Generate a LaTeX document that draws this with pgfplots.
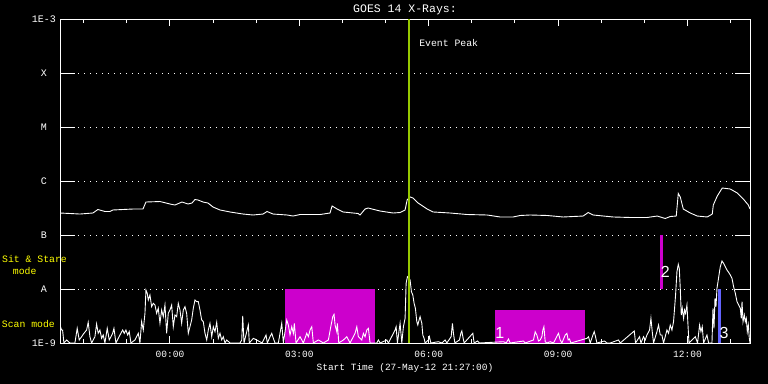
\documentclass[border=0pt]{standalone}
\usepackage{fontspec}
\setmainfont{Liberation Mono}
\newfontfamily\digfont{Liberation Sans}
\usepackage{pgfplots}
\pgfplotsset{compat=1.18}
\definecolor{mag}{RGB}{204,0,204}
\definecolor{peak}{RGB}{150,200,0}
\definecolor{blu}{RGB}{100,100,255}
\definecolor{yel}{RGB}{255,255,0}
\newcommand{\fs}[1]{\fontsize{#1}{#1}\selectfont}
\pgfplotstableread{
x y
-2.552 -6.589
-2.320 -6.598
-2.088 -6.608
-1.787 -6.589
-1.671 -6.524
-1.508 -6.561
-1.392 -6.561
-1.323 -6.533
-1.090 -6.524
-0.858 -6.515
-0.626 -6.515
-0.557 -6.385
-0.232 -6.376
0.000 -6.422
0.116 -6.441
0.278 -6.385
0.418 -6.422
0.510 -6.404
0.580 -6.339
0.650 -6.348
0.766 -6.385
0.882 -6.404
0.998 -6.478
1.160 -6.533
1.392 -6.570
1.694 -6.608
1.926 -6.626
2.158 -6.608
2.251 -6.561
2.390 -6.608
2.715 -6.626
2.854 -6.645
3.016 -6.617
3.480 -6.617
3.712 -6.589
3.759 -6.459
3.875 -6.515
4.014 -6.570
4.362 -6.598
4.408 -6.626
4.524 -6.515
4.594 -6.496
4.872 -6.552
5.174 -6.589
5.336 -6.580
5.452 -6.533
5.499 -6.348
5.568 -6.292
5.638 -6.311
5.754 -6.404
5.963 -6.515
6.102 -6.570
6.497 -6.589
6.891 -6.617
7.355 -6.626
7.657 -6.663
7.958 -6.663
8.121 -6.635
8.353 -6.626
8.747 -6.635
9.118 -6.663
9.582 -6.645
9.698 -6.580
9.814 -6.626
10.278 -6.663
10.673 -6.672
11.067 -6.672
11.299 -6.645
11.485 -6.691
11.601 -6.654
11.740 -6.645
11.787 -6.227
11.833 -6.292
11.903 -6.515
12.065 -6.589
12.227 -6.645
12.459 -6.663
12.575 -6.608
12.599 -6.441
12.691 -6.274
12.807 -6.125
12.993 -6.144
13.155 -6.218
13.295 -6.329
13.411 -6.441
13.450 -6.515
}\longchan
\pgfplotstableread{
x y
-2.552 -8.666
-2.513 -8.759
-2.490 -8.759
-2.459 -9
-2.397 -8.944
-2.320 -9
-2.204 -9
-2.151 -8.728
-2.104 -8.944
-2.049 -8.883
-1.995 -8.820
-1.933 -8.759
-1.896 -8.616
-1.856 -8.883
-1.817 -9
-1.740 -8.883
-1.701 -8.648
-1.664 -8.820
-1.624 -8.759
-1.585 -8.913
-1.548 -8.852
-1.508 -9
-1.455 -8.728
-1.408 -8.944
-1.329 -8.820
-1.299 -8.728
-1.253 -9
-1.200 -8.913
-1.097 -8.759
-1.060 -8.820
-1.021 -8.759
-0.981 -8.852
-0.944 -8.790
-0.905 -9
-0.812 -8.944
-0.735 -8.820
-0.696 -9
-0.657 -8.605
-0.619 -8.759
-0.580 -8.449
-0.557 -8.017
-0.527 -8.078
-0.503 -8.203
-0.464 -8.110
-0.425 -8.327
-0.387 -8.264
-0.348 -8.295
-0.309 -8.449
-0.271 -8.356
-0.232 -8.635
-0.193 -8.388
-0.155 -8.512
-0.116 -8.295
-0.077 -8.820
-0.039 -8.449
0.000 -8.388
0.039 -8.295
0.077 -8.698
0.116 -8.481
0.155 -8.512
0.193 -8.264
0.232 -8.388
0.271 -8.635
0.309 -8.388
0.348 -8.327
0.387 -8.449
0.425 -8.820
0.464 -8.698
0.503 -8.573
0.541 -8.356
0.580 -8.203
0.619 -8.234
0.657 -8.234
0.696 -8.388
0.735 -8.573
0.773 -8.605
0.812 -8.820
0.852 -8.944
0.889 -8.759
0.928 -8.635
0.968 -8.883
1.005 -8.698
1.044 -8.790
1.084 -8.616
1.121 -8.913
1.160 -8.820
1.200 -8.944
1.237 -8.883
1.276 -9
1.316 -8.944
1.392 -9
1.624 -9
1.664 -8.944
1.687 -8.499
1.717 -9
1.780 -8.790
1.817 -8.666
1.840 -9
1.933 -8.913
2.012 -8.944
2.135 -9
2.227 -8.852
2.258 -9
2.320 -8.883
2.360 -8.820
2.397 -8.913
2.436 -9
2.513 -9
2.592 -8.635
2.629 -9
2.668 -8.790
2.708 -8.573
2.745 -8.666
2.784 -8.852
2.824 -8.698
2.861 -8.820
2.884 -8.635
2.923 -9
3.016 -8.883
3.093 -9
3.172 -8.820
3.209 -8.883
3.248 -8.759
3.288 -8.698
3.325 -9
3.441 -8.944
3.557 -9
3.673 -8.944
3.729 -8.698
3.775 -8.512
3.805 -8.468
3.828 -8.666
3.868 -8.790
3.882 -8.635
3.914 -9
4.021 -8.944
4.100 -8.883
4.176 -9
4.292 -8.820
4.332 -8.698
4.369 -8.883
4.448 -8.944
4.485 -8.820
4.524 -8.883
4.564 -8.759
4.601 -8.728
4.640 -9
4.796 -9
4.833 -8.944
4.872 -9
5.028 -8.944
5.065 -9
5.220 -8.759
5.244 -8.698
5.274 -9
5.336 -8.635
5.376 -9
5.413 -8.698
5.452 -8.542
5.476 -7.893
5.506 -7.770
5.545 -7.800
5.568 -7.832
5.599 -8.049
5.631 -8.110
5.661 -8.264
5.691 -8.356
5.724 -8.605
5.747 -8.666
5.777 -8.573
5.800 -8.512
5.840 -8.635
5.863 -8.852
5.893 -8.913
5.916 -9
5.993 -8.944
6.016 -8.883
6.049 -9
6.225 -8.976
6.304 -9
6.381 -8.944
6.420 -9
6.520 -8.883
6.550 -8.635
6.573 -8.820
6.606 -9
6.712 -8.944
6.745 -8.820
6.768 -8.777
6.791 -8.883
6.821 -9
7.023 -8.820
7.053 -9
7.130 -8.963
7.176 -9
7.733 -8.976
7.796 -9
7.849 -8.926
7.889 -9
8.197 -8.963
8.237 -9
8.429 -8.944
8.469 -8.790
8.508 -8.852
8.545 -8.963
8.585 -8.944
8.624 -8.883
8.647 -8.759
8.671 -8.698
8.701 -8.976
8.740 -9
8.817 -8.976
8.893 -9
9.009 -8.820
9.049 -8.944
9.088 -9
9.165 -8.852
9.204 -8.820
9.234 -8.944
9.264 -8.926
9.297 -9
9.668 -8.913
9.705 -8.883
9.745 -9
9.807 -8.852
9.838 -8.790
9.868 -8.883
9.900 -9
10.077 -8.963
10.132 -9
10.209 -9
10.401 -8.944
10.441 -9
10.766 -8.777
10.796 -9
10.889 -8.883
10.921 -9
10.981 -8.883
11.021 -8.944
11.060 -8.852
11.121 -8.759
11.153 -8.542
11.183 -8.790
11.213 -9
11.292 -8.790
11.329 -8.666
11.369 -8.852
11.408 -8.852
11.445 -9
11.524 -8.759
11.561 -8.820
11.601 -8.666
11.640 -8.759
11.677 -8.605
11.701 -8.356
11.724 -8.110
11.756 -7.677
11.787 -7.541
11.810 -7.615
11.833 -7.986
11.856 -8.481
11.879 -8.356
11.910 -8.542
11.933 -8.388
11.956 -8.449
11.988 -8.295
12.012 -8.666
12.035 -9
12.181 -8.883
12.234 -9
12.281 -8.666
12.313 -8.790
12.343 -8.698
12.374 -9
12.452 -8.852
12.490 -9
12.568 -9
12.592 -8.356
12.615 -8.728
12.638 -8.171
12.661 -8.327
12.684 -7.986
12.708 -7.863
12.731 -7.739
12.761 -7.585
12.800 -7.479
12.838 -7.522
12.877 -7.585
12.916 -7.646
12.954 -7.689
12.993 -7.739
13.032 -7.800
13.070 -7.956
13.109 -8.078
13.149 -8.234
13.186 -8.295
13.225 -8.356
13.248 -8.542
13.265 -8.234
13.288 -8.605
13.318 -8.481
13.341 -8.605
13.364 -8.542
13.387 -8.790
13.411 -8.666
13.434 -8.913
13.450 -9
}\shortchan
\begin{document}
\begin{tikzpicture}
\path[use as bounding box, fill=black] (0,0) rectangle (768bp,384bp);
\begin{axis}[
  at={(60bp,41bp)}, anchor=south west,
  width=690bp, height=323.5bp, scale only axis,
  xmin=-2.55, xmax=13.45, ymin=-9, ymax=-3,
  axis line style={white, line width=1bp},
  tick style={white, line width=1bp},
  major tick length=15bp,
  xtick={0,3,6,9,12},
  xticklabels={00:00,03:00,06:00,09:00,12:00},
  minor xtick={-2,-1,1,2,4,5,7,8,10,11,13},
  xtick style={/pgfplots/major tick length=7bp, /pgfplots/minor tick length=4bp},
  ytick={-9,-8,-7,-6,-5,-4,-3},
  yticklabels={1E-9,A,B,C,M,X,1E-3},
  ymajorgrids,
  major grid style={white, line width=1bp, dash pattern=on 1bp off 5bp},
  ticklabel style={white},
  xticklabel style={font=\fs{9.5bp}, anchor=center, yshift=-11.5bp},
  yticklabel style={font=\fs{10bp}, anchor=center, xshift=-16bp},
  title={GOES 14 X-Rays:},
  every axis title/.style={at={(0.5,1)}, anchor=center, yshift=9.5bp, white, font=\fs{11.5bp}},
  xlabel={Start Time (27-May-12 21:27:00)},
  xlabel style={white, font=\fs{9.5bp}, at={(0.5,0)}, anchor=center, yshift=-25bp},
]
\addplot[fill=mag, draw=none] coordinates {(2.668,-9) (2.668,-8) (4.756,-8) (4.756,-9)} -- cycle;
\addplot[fill=mag, draw=none] coordinates {(7.541,-9) (7.541,-8.388) (9.629,-8.388) (9.629,-9)} -- cycle;
\addplot[fill=mag, draw=none] coordinates {(11.369,-8) (11.369,-7) (11.439,-7) (11.439,-8)} -- cycle;
\addplot[fill=blu, draw=none] coordinates {(12.708,-9) (12.708,-8) (12.784,-8) (12.784,-9)} -- cycle;
\addplot[white, line width=0.9bp] table[x=x, y=y] {\longchan};
\addplot[white, line width=0.9bp] table[x=x, y=y] {\shortchan};
\addplot[peak, line width=2.7bp] coordinates {(5.541,-9) (5.541,-3)};
\node[white, anchor=west, font=\fs{9.8bp}] at (axis cs:5.70,-3.442) {Event Peak};
\node[white, inner sep=0, font=\digfont\fs{16bp}] at (axis cs:11.485,-7.683) {2};
\node[white, inner sep=0, font=\digfont\fs{16bp}] at (axis cs:12.847,-8.811) {3};
\node[white, inner sep=0, font=\digfont\fs{16bp}] at (axis cs:7.650,-8.811) {1};
\end{axis}
\node[yel, anchor=west, inner sep=0, font=\fs{9.8bp}] at (2bp,125bp) {Sit \& Stare};
\node[yel, anchor=west, inner sep=0, font=\fs{9.8bp}] at (12.7bp,113bp) {mode};
\node[yel, anchor=west, inner sep=0, font=\fs{9.8bp}] at (1.7bp,60bp) {Scan mode};
\end{tikzpicture}
\end{document}
